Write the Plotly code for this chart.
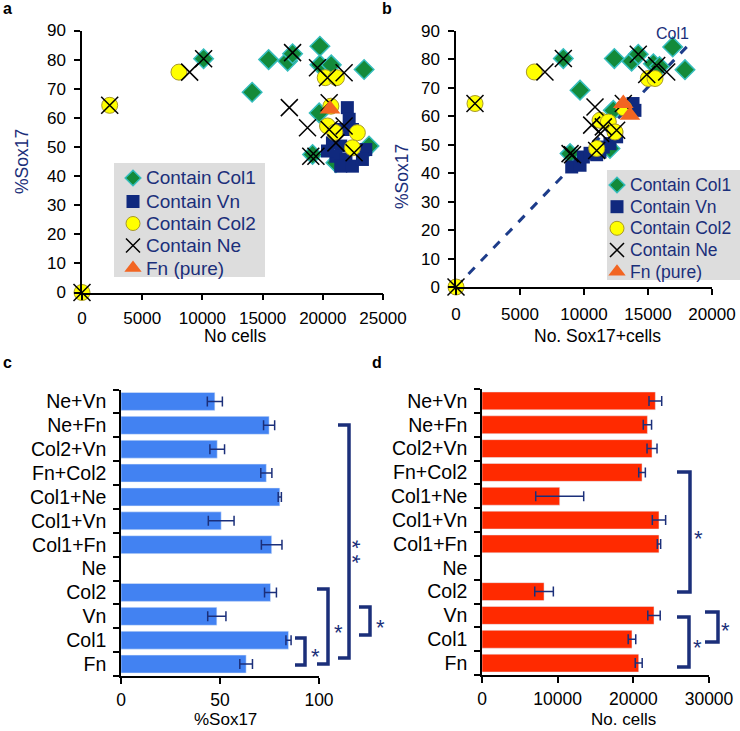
import plotly.graph_objects as go

W, H = 740, 731

# ---------------- panel a : No cells vs %Sox17 ----------------
col1_cells = [10100, 14130, 15500, 17080, 17490, 19760, 19760, 20700, 23430, 19700, 19150, 21090, 23840]
col1_pct = [80.3, 68.8, 80.0, 79.5, 82.0, 84.6, 78.2, 78.2, 76.6, 61.7, 47.4, 44.6, 50.3]
vn_cells = [22040, 22190, 21490, 22460, 20800, 21490, 21090, 21920, 21490, 22460, 23570, 23290, 20390]
vn_pct = [63.5, 59.5, 56.0, 56.0, 51.4, 50.3, 46.8, 45.7, 43.4, 43.4, 49.1, 45.7, 48.6]
col2_cells = [0, 2300, 8055, 20200, 21130, 20670, 20390, 21000, 22870, 22460]
col2_pct = [0, 64.3, 75.7, 73.8, 73.8, 64.0, 57.2, 55.0, 54.9, 49.7]
ne_cells = [0, 2300, 8940, 10100, 17490, 19560, 20390, 21770, 17220, 18730, 20530, 20530, 21770, 21090, 22600, 19430, 19000]
ne_pct = [0, 64.3, 75.7, 80.3, 82.4, 77.2, 73.8, 75.5, 63.5, 56.6, 65.2, 56.0, 57.2, 51.4, 48.0, 46.8, 46.8]
fn_cells = [20600]
fn_pct = [63.0]

# ---------------- panel b : No. Sox17+ cells vs %Sox17 ----------------
col1_pos = [8385, 9690, 12370, 13720, 14240, 16930, 17890, 15420, 15900, 12290, 8910, 12030]
col1_pos_pct = [80.3, 69.2, 80.3, 79.4, 81.8, 84.4, 76.4, 78.5, 77.5, 62.1, 46.9, 48.7]
vn_pos = [9040, 9690, 9950, 10470, 10990, 11510, 12030, 12550, 13330, 13980, 13830, 11250]
vn_pos_pct = [42.2, 42.8, 45.7, 47.0, 46.5, 49.2, 50.4, 52.8, 63.3, 62.1, 64.5, 47.5]
col2_pos = [0, 1484, 6120, 15030, 15550, 11250, 11900, 12420, 10990, 13100]
col2_pos_pct = [0, 64.5, 75.6, 73.3, 73.3, 58.6, 58.0, 54.5, 48.7, 63.0]
ne_pos = [0, 1484, 6950, 8385, 14240, 14900, 15680, 16460, 10860, 10600, 13070, 11510, 12550, 10990, 8910, 9100, 11300]
ne_pos_pct = [0, 64.5, 75.6, 80.3, 81.8, 74.7, 77.9, 75.6, 63.3, 56.9, 64.5, 56.3, 55.1, 48.0, 46.9, 46.5, 54.0]
fn_pos = [13070, 13590]
fn_pos_pct = [64.5, 60.4]
trend_x = [0, 18280]
trend_y = [0, 85.6]

# ---------------- panels c, d : bars ----------------
conds = ['Fn', 'Col1', 'Vn', 'Col2', 'Ne', 'Col1+Fn', 'Col1+Vn', 'Col1+Ne',
         'Fn+Col2', 'Col2+Vn', 'Ne+Fn', 'Ne+Vn']
pct_mean = [63.2, 84.6, 48.4, 75.5, None, 76.1, 50.6, 80.2, 73.4, 48.6, 74.8, 47.4]
pct_err = [3.2, 1.3, 4.6, 3.0, None, 5.2, 6.5, 0.8, 2.8, 3.7, 2.8, 3.8]
cells_mean = [20710, 19820, 22730, 8200, None, 23390, 23390, 10270, 21150, 22470, 21860, 22910]
cells_err = [460, 500, 820, 1230, None, 220, 880, 3170, 440, 660, 550, 840]

NAVY = '#1B2F7A'
FONT = 'Liberation Sans, Arial, sans-serif'


def pxx(p):
    return p / W


def pxy(p):
    return 1 - p / H


names = ['Contain Col1', 'Contain Vn', 'Contain Col2', 'Contain Ne', 'Fn (pure)']
markers = [
    dict(symbol='diamond', size=15, color='#138A3A', line=dict(color='#35BDBD', width=1.5)),
    dict(symbol='square', size=13, color='#10297E', line=dict(width=0)),
    dict(symbol='circle', size=16, color='#FFFF00', line=dict(color='#A8982A', width=1)),
    dict(symbol='x-thin', size=17, color='black', line=dict(color='black', width=1.5)),
    dict(symbol='triangle-up', size=18, color='#F26522', line=dict(width=0)),
]
key_sizes = [12, 13, 14, 14, 15]

a_sets = [(col1_cells, col1_pct), (vn_cells, vn_pct), (col2_cells, col2_pct),
          (ne_cells, ne_pct), (fn_cells, fn_pct)]
b_sets = [(col1_pos, col1_pos_pct), (vn_pos, vn_pos_pct), (col2_pos, col2_pos_pct),
          (ne_pos, ne_pos_pct), (fn_pos, fn_pos_pct)]

fig = go.Figure()

for mk, (xs, ys), name in zip(markers, a_sets, names):
    fig.add_trace(go.Scatter(x=xs, y=ys, mode='markers', name=name, marker=mk,
                             cliponaxis=False, showlegend=False, xaxis='x', yaxis='y'))

fig.add_trace(go.Scatter(x=trend_x, y=trend_y, mode='lines', showlegend=False,
                         line=dict(color='#1D3C8A', width=3, dash='dash'),
                         xaxis='x2', yaxis='y2'))
for mk, (xs, ys), name in zip(markers, b_sets, names):
    fig.add_trace(go.Scatter(x=xs, y=ys, mode='markers', name=name, marker=mk,
                             cliponaxis=False, showlegend=False, xaxis='x2', yaxis='y2'))

fig.add_trace(go.Bar(y=conds, x=pct_mean, orientation='h', marker_color='#4282F2',
                     error_x=dict(type='data', array=pct_err, color=NAVY, thickness=1.5, width=5),
                     showlegend=False, xaxis='x3', yaxis='y3'))
fig.add_trace(go.Bar(y=conds, x=cells_mean, orientation='h', marker_color='#FF2A00',
                     error_x=dict(type='data', array=cells_err, color=NAVY, thickness=1.5, width=5),
                     showlegend=False, xaxis='x4', yaxis='y4'))

ann = []
shapes = []


def text(x, y, s, size=17, color='black', bold=False, angle=0, xref='paper', yref='paper',
         xanchor='center'):
    if xref == 'paper':
        x = pxx(x)
    if yref == 'paper':
        y = pxy(y)
    ann.append(dict(x=x, y=y, xref=xref, yref=yref, text='<b>%s</b>' % s if bold else s,
                    showarrow=False, textangle=angle, xanchor=xanchor, yanchor='middle',
                    font=dict(family=FONT, size=size, color=color)))


# hand-drawn legend boxes (gray panel, keys on a full-page pixel overlay axis)
legends = [
    dict(box=(114, 163, 265, 277), key_x=133, text_x=144, rows=[178, 201.5, 223.5, 245.5, 268], size=19),
    dict(box=(607, 170, 745, 280), key_x=617, text_x=628, rows=[185, 206.7, 228.3, 250, 271.7], size=17.5),
]
for lg in legends:
    x0, y0, x1, y1 = lg['box']
    shapes.append(dict(type='rect', xref='paper', yref='paper', layer='below',
                       x0=pxx(x0), x1=pxx(x1), y0=pxy(y1), y1=pxy(y0),
                       fillcolor='#DDDDDD', line=dict(width=0)))
    for mk, ks, name, ry in zip(markers, key_sizes, names, lg['rows']):
        kmk = dict(mk, size=ks)
        fig.add_trace(go.Scatter(x=[lg['key_x']], y=[ry], mode='markers', marker=kmk,
                                 showlegend=False, hoverinfo='skip', cliponaxis=False,
                                 xaxis='x5', yaxis='y5'))
        text(lg['text_x'], ry, name, lg['size'], NAVY, xanchor='left')

ax = dict(showline=True, linecolor='black', linewidth=1.5, ticks='outside', ticklen=6,
          tickcolor='black', tickwidth=1.5, showgrid=False, zeroline=False, tickformat='d',
          automargin=False, tickfont=dict(family=FONT, size=17, color='black'))
catfont = dict(family=FONT, size=19.5, color='black')
numfont = dict(family=FONT, size=17.5, color='black')

fig.update_layout(
    width=W, height=H, margin=dict(l=0, r=0, t=0, b=0, pad=0),
    plot_bgcolor='rgba(0,0,0,0)', paper_bgcolor='white', bargap=0.25, showlegend=False,
    xaxis=dict(ax, domain=[pxx(82), pxx(383)], range=[0, 25000], dtick=5000, anchor='y',
               ticklabelstandoff=3),
    yaxis=dict(ax, domain=[pxy(292.5), pxy(30.5)], range=[0, 90], dtick=10, anchor='x',
               ticklabelstandoff=5),
    xaxis2=dict(ax, domain=[pxx(456), pxx(712)], range=[0, 20000], dtick=5000, anchor='y2',
                ticklabelstandoff=5),
    yaxis2=dict(ax, domain=[pxy(287), pxy(31)], range=[0, 90], dtick=10, anchor='x2',
                ticklabelstandoff=5),
    xaxis3=dict(ax, domain=[pxx(121), pxx(319)], range=[0, 100], dtick=50, anchor='y3',
                ticklabelstandoff=1, tickfont=numfont),
    yaxis3=dict(ax, domain=[pxy(676), pxy(389.5)], type='category', categoryorder='array',
                categoryarray=conds, tickson='boundaries', anchor='x3', ticklabelstandoff=9,
                tickfont=catfont),
    xaxis4=dict(ax, domain=[pxx(482), pxx(709)], range=[0, 30000], dtick=10000, anchor='y4',
                ticklabelstandoff=1, tickfont=numfont),
    yaxis4=dict(ax, domain=[pxy(675), pxy(389)], type='category', categoryorder='array',
                categoryarray=conds, tickson='boundaries', anchor='x4', ticklabelstandoff=9,
                tickfont=catfont),
    xaxis5=dict(domain=[0, 1], range=[0, W], visible=False, anchor='y5', fixedrange=True,
                automargin=False),
    yaxis5=dict(domain=[0, 1], range=[H, 0], visible=False, anchor='x5', fixedrange=True,
                automargin=False),
)

# panel letters
text(7, 8, 'a', 16, bold=True)
text(387, 8, 'b', 16, bold=True)
text(7, 362, 'c', 16, bold=True)
text(377, 362, 'd', 16, bold=True)

# axis titles
text(22, 162, '%Sox17', 17.5, NAVY, angle=-90)
text(402, 177, '%Sox17', 17.5, NAVY, angle=-90)
text(235, 336, 'No cells', 17.5)
text(597, 336, 'No. Sox17+cells', 17.5)
text(225, 719, '%Sox17', 17)
text(623, 719, 'No. cells', 17)

# Col1 labels
text(19700, 90.6, 'Col1', 16, NAVY, xref='x', yref='y')
text(16875, 89.2, 'Col1', 16, NAVY, xref='x2', yref='y2')

# significance brackets
brackets = [(295, 305, 638, 665), (317, 328, 589, 664), (338, 349, 425, 658),
            (359, 370, 607, 635), (677, 690, 472, 592), (677, 689, 617, 667),
            (705, 718, 612, 642)]
stars = [(315, 651), (338, 627), (380, 622), (698, 533), (697, 642), (725, 625)]
for x0, x1, y0, y1 in brackets:
    shapes.append(dict(type='path', xref='paper', yref='paper',
                       path='M %f,%f H %f V %f H %f' % (pxx(x0), pxy(y0), pxx(x1), pxy(y1), pxx(x0)),
                       line=dict(color=NAVY, width=3.5)))
for sx, sy in stars:
    text(sx, sy + 5, '*', 22, NAVY)
# double star stacked vertically
text(353, 552, '* *', 22, NAVY, angle=90)

fig.update_layout(annotations=ann, shapes=shapes)
# drop the default page margin so the figure fills the window exactly
fig.write_html('out.html', config={'displayModeBar': False},
               post_script="document.body.style.margin='0';")
